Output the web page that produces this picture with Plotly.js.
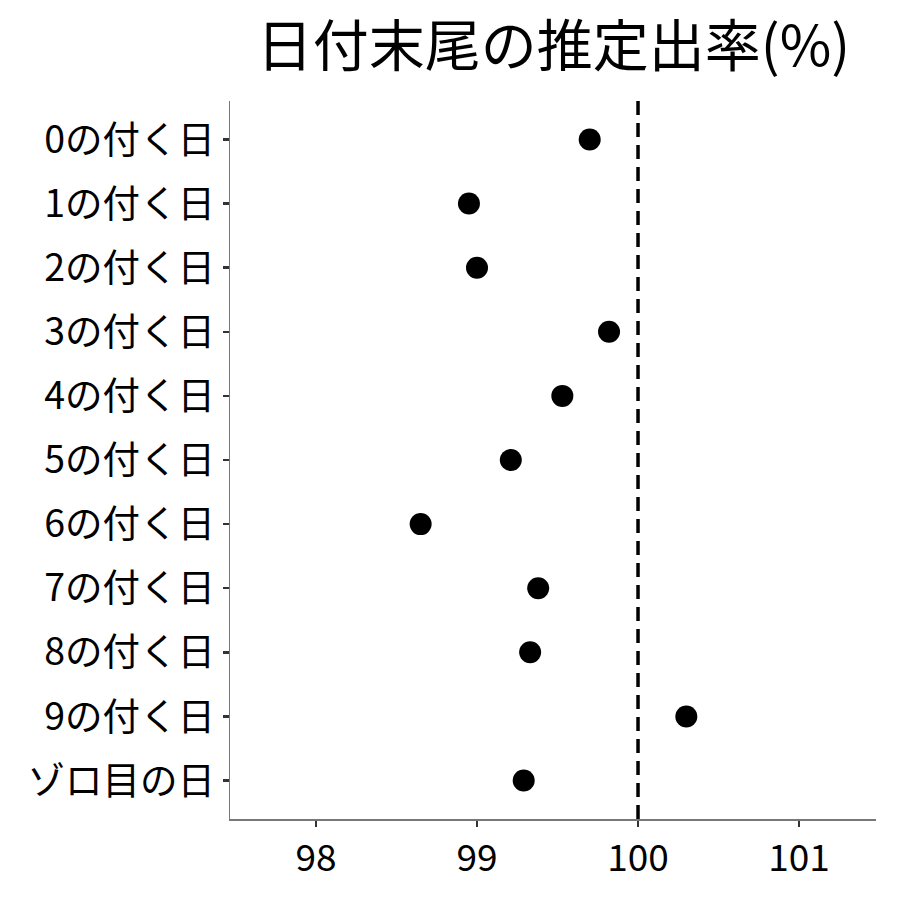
<!DOCTYPE html>
<html><head><meta charset="utf-8">
<script src="https://cdn.plot.ly/plotly-3.0.1.min.js"></script>
<style>body{margin:0;background:#fff}#c{width:900px;height:900px}</style>
</head><body><div id="c"></div>
<script>
const categories = ["0の付く日","1の付く日","2の付く日","3の付く日","4の付く日","5の付く日","6の付く日","7の付く日","8の付く日","9の付く日","ゾロ目の日"];
const rates = [99.70, 98.95, 99.00, 99.82, 99.53, 99.21, 98.65, 99.38, 99.33, 100.30, 99.29];
const tickVals = [98, 99, 100, 101];
const refLine = 100;
const font = '"Noto Sans CJK JP", "Noto Sans", sans-serif';

const trace = {
  type: 'scatter', mode: 'markers',
  x: rates, y: categories,
  marker: {color: '#000', size: 22},
  hoverinfo: 'none', cliponaxis: false
};
const layout = {
  width: 900, height: 900,
  paper_bgcolor: '#fff', plot_bgcolor: '#fff',
  margin: {l: 230, r: 24, t: 101, b: 81},
  showlegend: false,
  title: {text: '日付末尾の推定出率(%)', font: {family: font, size: 56, color: '#000'}, x: 0.615, xanchor: 'center', y: 0.949, yanchor: 'middle'},
  xaxis: {
    range: [97.466, 101.478], tickvals: tickVals, showgrid: false, zeroline: false,
    showline: true, linecolor: '#777', linewidth: 1.5,
    ticks: 'outside', ticklen: 6, tickwidth: 2.5, tickcolor: '#333',
    tickfont: {family: font, size: 37, color: '#000'}
  },
  yaxis: {
    type: 'category', categoryorder: 'array', categoryarray: categories,
    range: [10.6, -0.6], showgrid: false, zeroline: false,
    showline: true, linecolor: '#777', linewidth: 1.5,
    ticks: 'outside', ticklen: 6, tickwidth: 2.5, tickcolor: '#333',
    tickfont: {family: font, size: 37.5, color: '#000'}
  },
  shapes: [{type: 'line', xref: 'x', yref: 'paper', x0: refLine, x1: refLine, y0: 0, y1: 1,
    line: {color: '#000', width: 3.5, dash: '14px,8px'}}]
};
Plotly.newPlot('c', [trace], layout, {displayModeBar: false, staticPlot: true});
</script></body></html>
